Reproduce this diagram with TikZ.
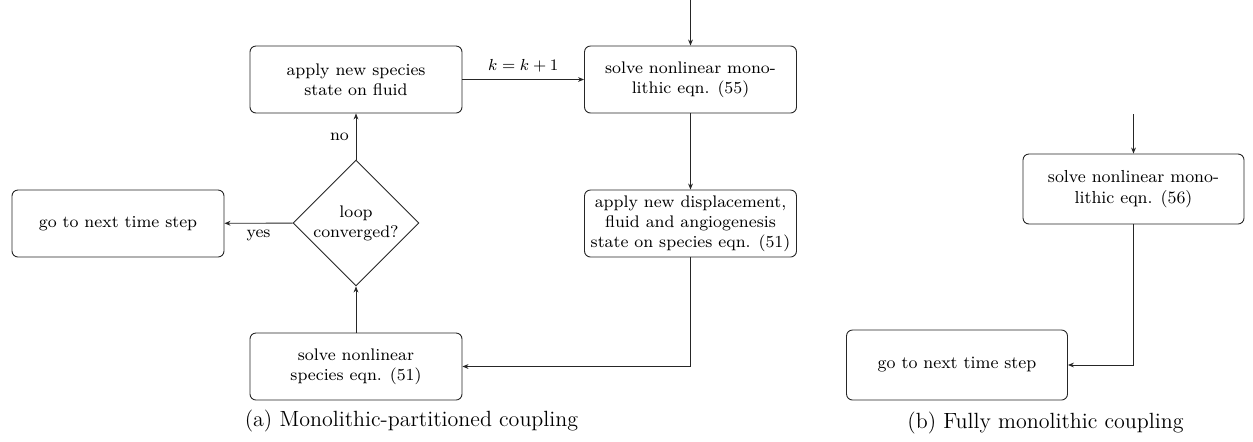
\documentclass[tikz,border=0pt]{standalone}
\usetikzlibrary{shapes.geometric,arrows.meta}
\begin{document}
\begin{tikzpicture}[x=0.5pt,y=-0.5pt,line width=0.45pt,
  box/.style={draw=black!85,rounded corners=3pt,align=center,minimum width=106pt,minimum height=33.5pt,inner sep=2pt,font=\fontsize{8.4}{10}\selectfont},
  boxb/.style={box,minimum width=110.5pt,minimum height=35pt,font=\fontsize{8.7}{10.4}\selectfont},
  dec/.style={draw=black!85,diamond,aspect=1,minimum size=63pt,inner sep=0pt,align=center,font=\fontsize{8.4}{10}\selectfont},
  arr/.style={draw=black!85,-{Stealth[length=3pt,width=2.4pt]}},
  lbl/.style={font=\fontsize{8.4}{10}\selectfont},
  captext/.style={font=\fontsize{11}{13}\selectfont}]
\useasboundingbox (0,0) rectangle (1253,441);
% (a)
\node[box] (A) at (356,79.5) {apply new species\\state on fluid};
\node[box] (B) at (690.5,79.5) {solve nonlinear mono-\\lithic eqn. (55)};
\node[box] (goA) at (118,223.5) {go to next time step};
\node[dec] (dia) at (356,223) {loop\\converged?};
\node[box] (C) at (690.5,223.5) {apply new displacement,\\fluid and angiogenesis\\state on species eqn. (51)};
\node[box] (D) at (356,366.5) {solve nonlinear\\species eqn. (51)};
\coordinate (inA) at (690.5,0);
\draw[arr] (inA) -- (B);
\draw[arr] (A) -- node[midway,above,lbl] {$k=k+1$} (B);
\draw[arr] (dia) -- node[midway,left,lbl] {no} (A);
\draw[arr] (dia) -- node[midway,below,lbl] {yes} (goA);
\draw[arr] (B) -- (C);
\draw[arr] (C.south) |- (D.east);
\draw[arr] (D) -- (dia);
\node[captext] (capA) at (411.5,421) {(a) Monolithic-partitioned coupling};
% (b)
\node[boxb] (Bb) at (1133.5,189) {solve nonlinear mono-\\lithic eqn. (56)};
\node[boxb] (goB) at (957,365) {go to next time step};
\coordinate (inB) at (1133.5,114);
\draw[arr] (inB) -- (Bb);
\draw[arr] (Bb.south) |- (goB.east);
\node[captext] (capB) at (1045.5,423) {(b) Fully monolithic coupling};
\end{tikzpicture}
\end{document}
